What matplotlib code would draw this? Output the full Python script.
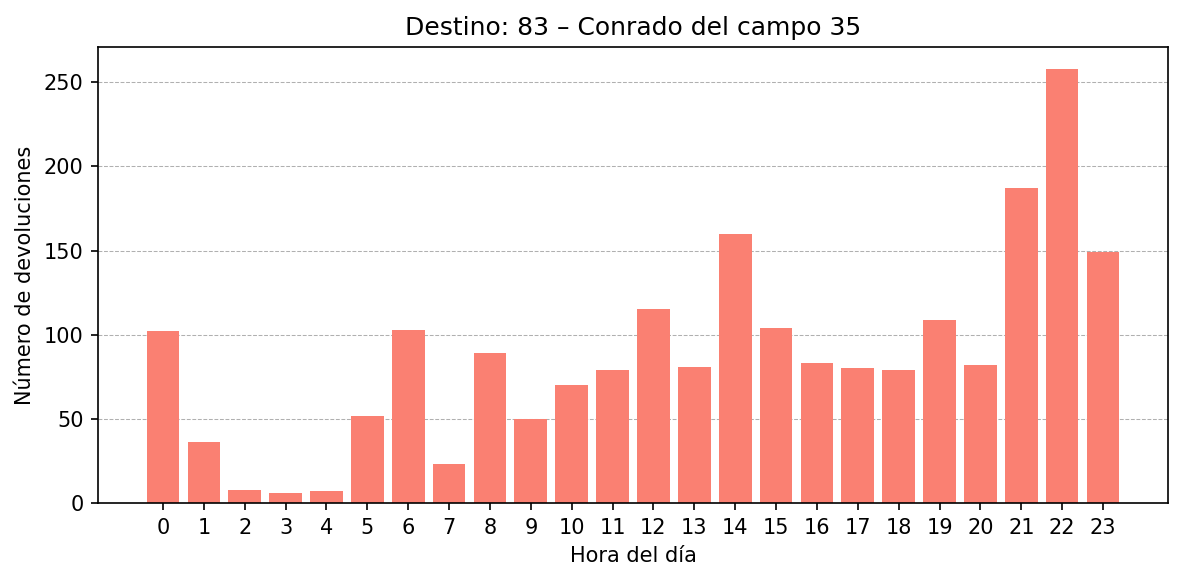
import matplotlib
matplotlib.use("Agg")
import matplotlib.pyplot as plt

horas = list(range(24))
devoluciones = [102, 36, 8, 6, 7, 52, 103, 23, 89, 50, 70, 79, 115, 81, 160, 104,
                83, 80, 79, 109, 82, 187, 258, 149]

fig = plt.figure(figsize=(11.84/1.5, 5.81/1.5), dpi=150)
ax = fig.add_axes([98/1184, 1 - 503/581, (1168-98)/1184, (503-47)/581])
ax.bar(horas, devoluciones, color="salmon", width=0.8, zorder=2)
ax.set_xticks(horas)
ax.set_xticklabels([str(h) for h in horas])
ax.set_ylim(0, 271)
ax.grid(axis="y", linestyle="--", linewidth=0.5, color="#b0b0b0", zorder=0)
ax.set_title("Destino: 83 – Conrado del campo 35")
ax.set_xlabel("Hora del día")
ax.set_ylabel("Número de devoluciones")
fig.savefig("out.png", dpi=150)
